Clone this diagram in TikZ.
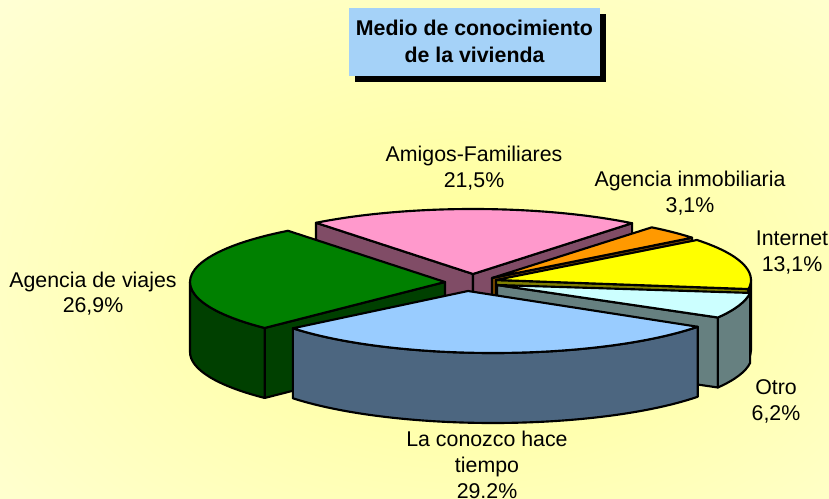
\documentclass[tikz,border=0pt]{standalone}
\usepackage{fontspec}
\setmainfont{Liberation Sans}
\usepackage{tikz}

\definecolor{bgcore}{RGB}{255,255,150}
\definecolor{bgedge}{RGB}{255,255,252}
\definecolor{titleblue}{RGB}{165,210,248}
\definecolor{pinktop}{RGB}{255,153,204}
\definecolor{pinkside}{RGB}{128,76,102}
\definecolor{orangetop}{RGB}{255,153,0}
\definecolor{orangeside}{RGB}{128,76,0}
\definecolor{yellowtop}{RGB}{255,255,0}
\definecolor{yellowside}{RGB}{128,128,0}
\definecolor{cyantop}{RGB}{204,255,255}
\definecolor{cyanside}{RGB}{102,128,128}
\definecolor{bluetop}{RGB}{153,204,255}
\definecolor{blueside}{RGB}{76,102,128}
\definecolor{greentop}{RGB}{0,128,0}
\definecolor{greenside}{RGB}{0,64,0}

\tikzset{
  face/.style={draw=black, line width=1.6pt, line join=round},
  lbl/.style={align=center, inner sep=0pt, anchor=base, font=\fontsize{16}{19.5}\selectfont},
  titletext/.style={align=center, inner sep=0pt, font=\fontsize{16}{20.25}\selectfont\bfseries},
}

\begin{document}
\begin{tikzpicture}[x=0.75pt, y=0.75pt]
    % background
    \useasboundingbox (0,0) rectangle (829,-499);
    \begin{scope}
      \clip (0,0) rectangle (829,-499);
      \shade[inner color=bgcore, outer color=bgedge] (-570,400) rectangle (1510,-960);
    \end{scope}

    % title
    \fill[black] (355,-14) rectangle (606,-82);
    \fill[titleblue] (349,-8) rectangle (600,-76);
    \node[titletext] (title) at (474.5,-41.5) {Medio de conocimiento\\de la vivienda};

    % amigos
    \begin{scope}[shift={(473,-274)}]
      \filldraw[face, fill=pinkside] (0,0) -- (128:255 and 65) -- ++(0,-70) -- (0,-70) -- cycle;
      \filldraw[face, fill=pinkside] (0,0) -- (51.4:255 and 65) -- ++(0,-70) -- (0,-70) -- cycle;
      \filldraw[face, fill=pinktop] (0,0) -- (51.4:255 and 65) arc (51.4:128:255 and 65) -- cycle;
    \end{scope}

    % inmobiliaria
    \begin{scope}[shift={(492,-278)}]
      \filldraw[face, fill=orangeside] (0,0) -- (38.3:255 and 65) -- ++(0,-70) -- (0,-70) -- cycle;
      \filldraw[face, fill=orangetop] (0,0) -- (38.3:255 and 65) arc (38.3:51.2:255 and 65) -- cycle;
    \end{scope}

    % internet
    \begin{scope}[shift={(496,-280)}]
      \filldraw[face, fill=yellowside] (0,0) -- (-8:255 and 65) -- ++(0,-70) -- (0,-70) -- cycle;
      \filldraw[face, fill=yellowside] (0:255 and 65) arc (0:-8:255 and 65) -- ++(0,-70) arc (-8:0:255 and 65) -- cycle;
      \filldraw[face, fill=yellowtop] (0,0) -- (-8:255 and 65) arc (-8:38:255 and 65) -- cycle;
    \end{scope}

    % viajes
    \begin{scope}[shift={(445,-282)}]
      \filldraw[face, fill=greenside] (0,0) -- (225:255 and 65) -- ++(0,-70) -- (0,-70) -- cycle;
      \filldraw[face, fill=greenside] (180:255 and 65) arc (180:225:255 and 65) -- ++(0,-70) arc (225:180:255 and 65) -- cycle;
      \filldraw[face, fill=greentop] (0,0) -- (225:255 and 65) arc (225:128:255 and 65) -- cycle;
    \end{scope}

    % otro
    \begin{scope}[shift={(497,-285)}]
      \filldraw[face, fill=cyanside] (0,0) -- (-30:255 and 65) -- ++(0,-70) -- (0,-70) -- cycle;
      \filldraw[face, fill=cyanside] (-7:255 and 65) arc (-7:-30:255 and 65) -- ++(0,-70) arc (-30:-7:255 and 65) -- cycle;
      \filldraw[face, fill=cyantop] (0,0) -- (-30:255 and 65) arc (-30:-7:255 and 65) -- cycle;
    \end{scope}

    % conozco
    \begin{scope}[shift={(493,-288)}]
      \filldraw[face, fill=blueside] (-141.7:255 and 65) arc (-141.7:-36.6:255 and 65) -- ++(0,-70) arc (-36.6:-141.7:255 and 65) -- cycle;
      \filldraw[face, fill=bluetop] (-25,-3) -- (-141.7:255 and 65) arc (-141.7:-36.6:255 and 65) -- cycle;
    \end{scope}

    % labels
    \node[lbl] (amigos) at (474,-188) {Amigos-Familiares\\21,5\%};
    \node[lbl] (inmob) at (690,-213) {Agencia inmobiliaria\\3,1\%};
    \node[lbl] (internet) at (792,-272) {Internet\\13,1\%};
    \node[lbl] (viajes) at (93,-313) {Agencia de viajes\\26,9\%};
    \node[lbl] (otro) at (776,-420) {Otro\\6,2\%};
    \node[lbl] (conozco) at (487,-498) {La conozco hace\\tiempo\\29.2\%};

\end{tikzpicture}
\end{document}
